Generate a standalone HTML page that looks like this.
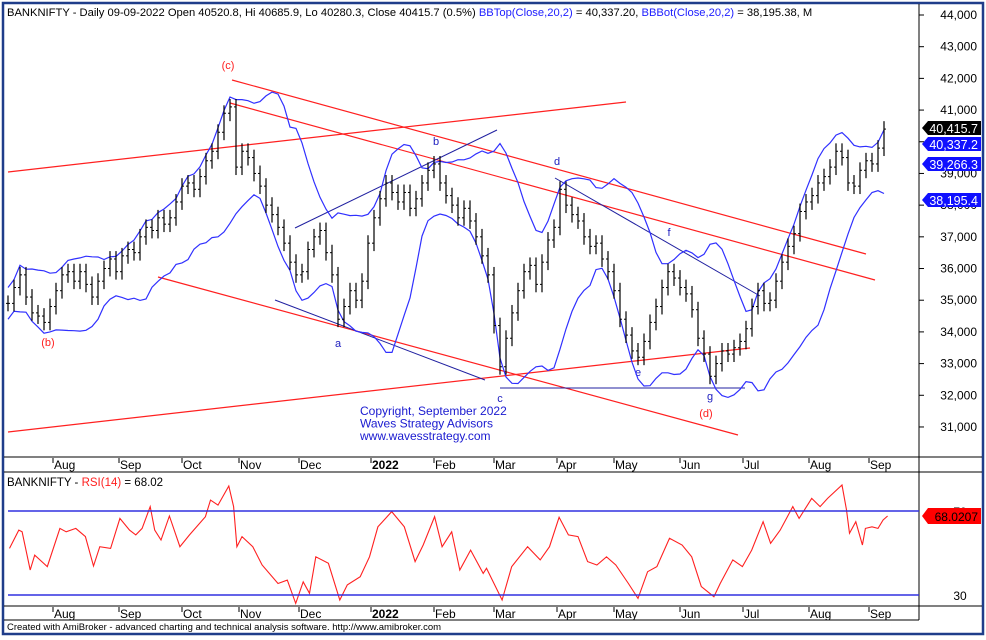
<!DOCTYPE html>
<html><head><meta charset="utf-8"><style>
body{margin:0;background:#fff;width:986px;height:640px;overflow:hidden;font-family:"Liberation Sans",sans-serif}
svg{display:block}
</style></head><body>
<svg id="c" width="986" height="640" xmlns="http://www.w3.org/2000/svg" font-family="Liberation Sans, sans-serif">
<rect x="0" y="0" width="986" height="640" fill="#fff"/>
<rect x="3" y="3" width="980" height="631" fill="none" stroke="#1f3d8a" stroke-width="2.5"/>
<g id="lines"></g>
<g id="marks"></g>
<g id="axes"></g>
</svg>
<script>
const closes=[34900,35400,35800,35100,34600,34500,34300,34800,35300,35800,35900,35600,35900,35500,35100,35600,36000,36300,35900,36400,36600,36500,37000,37300,37200,37600,37400,37600,38100,38600,38700,38500,38900,39400,39700,40300,40900,41100,39200,39700,39500,39000,38600,38000,37700,37300,36800,36200,35800,35900,36600,37000,37200,36500,35800,34400,34800,35300,35000,35600,36800,37600,38200,38700,38400,38100,38400,37900,38200,38700,39100,39300,38700,38300,38000,37600,37900,37500,37000,36400,35800,34200,32900,33800,34600,35300,35900,36100,35500,36200,36900,37300,38500,38000,37700,37500,37000,36700,36800,36300,35900,35300,34400,33900,33400,33200,33700,34300,34800,35400,35900,35700,35400,35200,34700,33800,33300,32600,33000,33400,33300,33500,33700,34100,34800,35300,34900,35000,35600,36200,36700,37100,37800,38100,38300,38700,38900,39200,39700,39500,38700,38600,39100,39400,39300,39800,40400];
const rsiDays=[0.5,3.6,4.7,7.4,8.9,13.1,17.3,19.4,22.6,25.8,28.5,30.6,34.2,37.3,40.5,42.6,44.7,47.4,48.9,51,53.8,57.3,60.5,65.8,67.5,70,73.6,75.2,76.3,78,81.6,84.7,90,93.1,95.9,98.4,100.5,102.6,106.8,110.6,113.1,117.4,120.5,123.3,127.9,132.1,135.7,138.4,142.2,144.7,147.9,150.6,154.2,158.4,159.5,164.7,167.9,173.2,177.4,180.5,183.7,186.8,190,193.2,196.3,199.5,202.6,206.8,210,213.2,216.3,220.5,224.7,227.9,231.1,235.3,237.4,241.6,244.8,247.9,251.7,254.2,257.4,261.6,263.7,267.9,270.7,273.2,278,279.5,280.5,282.6,284.8,285.8,288,290,291.7,293.2];
const rsiVals=[52.2,60.9,60.1,41.9,49,43.5,61.7,60.1,61.7,57.8,43.8,53,52.2,66.5,60.9,58.6,61.7,72.1,60.9,56.2,67.6,53,58.6,67.3,75.2,72.8,81.9,72.1,53,57.8,53,44.3,35.5,37.1,26,36.3,30.8,48.2,45.1,27.6,34.8,38.7,48.2,62.5,69.7,62.5,45.9,53.8,67.3,53,60.1,41.9,51.4,40.3,42.7,27.6,43.5,53,46.7,53,67,58.6,57.8,45.9,44.3,48.2,44.3,35.5,28.4,41.1,43.5,57,53.8,48.2,34,29.2,35.5,46.7,43.5,51.4,64.9,54.6,60.9,72.1,66.5,76,72.1,76,82.4,70.5,59.4,64.9,53.8,61.7,62.5,61.7,65.7,67.6];
const priceTicks=[44000,43000,42000,41000,40000,39000,38000,37000,36000,35000,34000,33000,32000,31000];
const months=["Aug","Sep","Oct","Nov","Dec","2022","Feb","Mar","Apr","May","Jun","Jul","Aug","Sep"];
const monthDays=[15,37,58,77,97,121,142,162,183,202,224,245,267,287];
const tags=[["40,415.7","#000"],["40,337.2","#1010ff"],["39,266.3","#1010ff"],["38,195.4","#1010ff"]];
const tagVals=[40415.7,40337.2,39266.3,38195.4];

const NS="http://www.w3.org/2000/svg";
const px=d=>8+d*3;
const py=v=>15+(44000-v)*0.03169;
const ry=v=>511+(70-v)*2.1;
function mk(t,a,p){const e=document.createElementNS(NS,t);for(const k in a)e.setAttribute(k,a[k]);(p||document.getElementById('marks')).appendChild(e);return e;}
const axes=document.getElementById('axes'),lines=document.getElementById('lines');

mk('line',{x1:919,y1:4,x2:919,y2:620,stroke:'#000'},axes);
mk('line',{x1:4,y1:457,x2:982,y2:457,stroke:'#000'},axes);
mk('line',{x1:4,y1:472,x2:982,y2:472,stroke:'#000'},axes);
mk('line',{x1:4,y1:606,x2:982,y2:606,stroke:'#000'},axes);
mk('line',{x1:4,y1:620,x2:919,y2:620,stroke:'#000'},axes);

priceTicks.forEach(v=>{
 const t=mk('text',{x:977,y:py(v)+4,'font-size':12,'text-anchor':'end',fill:'#000'},axes);t.textContent=v.toLocaleString('en-US');
 
 
 mk('line',{x1:919,y1:py(v),x2:924,y2:py(v),stroke:'#000'},axes);
});
[465,614].forEach(yy=>{
 months.forEach((m,i)=>{
  const x=px(monthDays[i]);
  mk('line',{x1:x,y1:yy-7,x2:x,y2:yy-2,stroke:'#000'},axes);
  const t=mk('text',{x:x+1,y:yy+4,'font-size':12,fill:'#000','font-weight':m==='2022'?'bold':'normal'},axes);t.textContent=m;
  
  
 });
});

const bbTopPts=[],bbBotPts=[];
closes.forEach((c,i)=>{const w=closes.slice(Math.max(0,i-9),i+1);const m=w.reduce((a,b)=>a+b)/w.length;const sd=Math.sqrt(w.reduce((a,b)=>a+(b-m)*(b-m),0)/w.length);bbTopPts.push([px(i*2),py(m+2*Math.max(sd,250))]);bbBotPts.push([px(i*2),py(m-2*Math.max(sd,250))]);});
const pt=a=>a.map(p=>p[0].toFixed(1)+','+p[1].toFixed(1)).join(' ');
const bt=mk('polyline',{points:pt(bbTopPts),fill:'none',stroke:'#3030ff','stroke-width':1.2});


const bb=mk('polyline',{points:pt(bbBotPts),fill:'none',stroke:'#3030ff','stroke-width':1.2});



closes.forEach((c,i)=>{
 const prev=i?closes[i-1]:c;const hi=Math.max(prev,c)+250,lo=Math.min(prev,c)-250;const x=px(i*2);
 const g=mk('g',{});
 
 
 mk('line',{x1:x,y1:py(hi),x2:x,y2:py(lo),stroke:'#000','stroke-width':1.2},g);
 mk('line',{x1:x-2,y1:py(prev),x2:x,y2:py(prev),stroke:'#000'},g);
 mk('line',{x1:x,y1:py(c),x2:x+2,y2:py(c),stroke:'#000'},g);
});

[[8,172,626,102],[232,80,866,254],[230,103,875,280],[158,277,738,435],[8,432,750,348]].forEach(l=>{
 const e=mk('line',{x1:l[0],y1:l[1],x2:l[2],y2:l[3],stroke:'#ff2020','stroke-width':1.2},lines);
 
 
});
[[275,300,485,380],[295,228,497,130],[500,388,745,388],[555,178,760,296]].forEach(l=>{
 const e=mk('line',{x1:l[0],y1:l[1],x2:l[2],y2:l[3],stroke:'#2020a0','stroke-width':1},lines);
 
 
});
[["(c)",228,69,'#ff2020'],["(b)",48,346,'#ff2020'],["(d)",706,417,'#ff2020'],["b",436,145,'#2020c0'],["a",338,347,'#2020c0'],["c",500,402,'#2020c0'],["d",557,165,'#2020c0'],["e",638,376,'#2020c0'],["f",669,236,'#2020c0'],["g",710,400,'#2020c0']].forEach(w=>{
 const t=mk('text',{x:w[1],y:w[2],'font-size':11,fill:w[3],'text-anchor':'middle'},lines);t.textContent=w[0];
 
 
});
["Copyright, September 2022","Waves Strategy Advisors","www.wavesstrategy.com"].forEach((s,i)=>{
 const t=mk('text',{x:360,y:415+i*12.5,'font-size':12,fill:'#1a1ad0'},lines);t.textContent=s;
 
 
});

const h=mk('text',{x:7,y:16,'font-size':11.2,fill:'#000'},axes);


h.innerHTML='BANKNIFTY - Daily 09-09-2022 Open 40520.8, Hi 40685.9, Lo 40280.3, Close 40415.7 (0.5%) <tspan fill="#2020ff">BBTop(Close,20,2)</tspan> = 40,337.20, <tspan fill="#2020ff">BBBot(Close,20,2)</tspan> = 38,195.38, M';

tags.forEach((tg,i)=>{
 const yy=i===2?164:(i===3?200:(i===0?128:144));
 const g=mk('g',{},axes);
 
 
 mk('path',{d:`M922,${yy} L928,${yy-7} L981,${yy-7} L981,${yy+7} L928,${yy+7} Z`,fill:tg[1]},g);
 const t=mk('text',{x:978,y:yy+5,'font-size':12.5,fill:'#fff','text-anchor':'end'},g);t.textContent=tg[0];
});

const rt=mk('text',{x:7,y:486,'font-size':11.5,fill:'#000'},axes);


rt.innerHTML='BANKNIFTY - <tspan fill="#ff2020">RSI(14)</tspan> = 68.02';
[70,30].forEach(v=>{
 const l=mk('line',{x1:8,y1:ry(v),x2:919,y2:ry(v),stroke:'#3030e0','stroke-width':1.5},axes);
 
 
 const t=mk('text',{x:960,y:ry(v)+5,'font-size':12,fill:'#000','text-anchor':'middle'},axes);t.textContent=v;
 
 
});
const rl=mk('polyline',{points:rsiDays.map((d,i)=>px(d).toFixed(1)+','+ry(rsiVals[i]).toFixed(1)).join(' '),fill:'none',stroke:'#ff2020','stroke-width':1.1});


const rg=mk('g',{},axes);


const ryy=516;
mk('path',{d:`M922,${ryy} L928,${ryy-8} L981,${ryy-8} L981,${ryy+8} L928,${ryy+8} Z`,fill:'#ff0000'},rg);
const rtt=mk('text',{x:978,y:ryy+5,'font-size':12,fill:'#000','text-anchor':'end'},rg);rtt.textContent='68.0207';

const f=mk('text',{x:7,y:630,'font-size':9.5,fill:'#000'},axes);
f.textContent='Created with AmiBroker - advanced charting and technical analysis software. http://www.amibroker.com';


</script>
</body></html>
